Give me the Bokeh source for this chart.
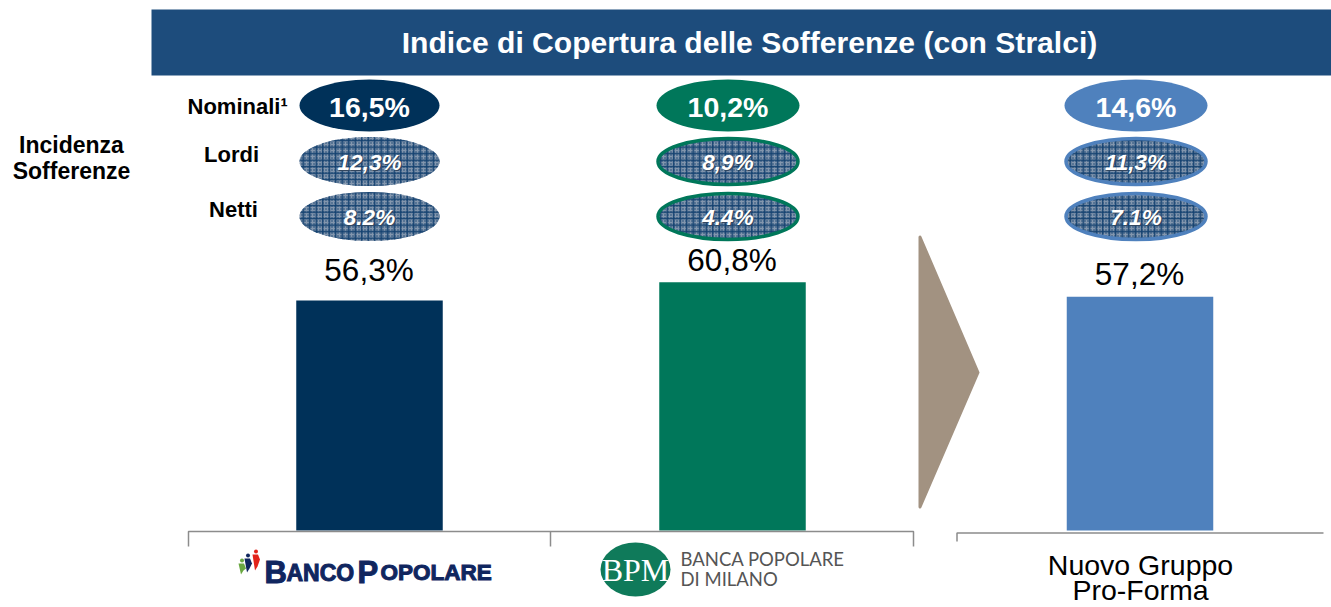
from bokeh.plotting import figure
from bokeh.models import Range1d
from bokeh.embed import file_html
from bokeh.resources import INLINE
from bokeh.core.properties import value

banks = ["Banco Popolare", "Banca Popolare di Milano", "Nuovo Gruppo Pro-Forma"]
coverage = [56.3, 60.8, 57.2]
coverage_labels = ["56,3%", "60,8%", "57,2%"]
nominali_labels = ["16,5%", "10,2%", "14,6%"]
lordi_labels = ["12,3%", "8,9%", "11,3%"]
netti_labels = ["8.2%", "4.4%", "7.1%"]
title_text = "Indice di Copertura delle Sofferenze (con Stralci)"
bar_colors = ["#003159", "#00775a", "#4f81bd"]
title_color = "#1d4c7c"

W, H = 1331, 607
FONT = value("Liberation Sans")

base_px = 530
px_per_unit = 4.085
p = figure(width=W, height=H, output_backend="svg", toolbar_location=None,
           x_range=Range1d(0, W),
           y_range=Range1d((base_px - H) / px_per_unit, base_px / px_per_unit),
           min_border=0, outline_line_color=None, background_fill_color="white")
p.axis.visible = False
p.grid.visible = False
p.extra_y_ranges["px"] = Range1d(H, 0)

def txt(x, y, s, size, color="black", style="normal", align="center", font=FONT):
    p.text([x], [y], text=[s], y_range_name="px", text_font=font,
           text_font_size=f"{size}px", text_font_style=style, text_color=color,
           text_align=align, text_baseline="middle")

# title band
p.quad(left=[151], right=[1331], top=[9], bottom=[75], y_range_name="px",
       fill_color=title_color, line_color=None)
txt(749, 42, title_text, 30.1, "white", "bold")

# bars
centers = [369, 732, 1139.5]
label_gaps = [30.5, 22, 23]
p.vbar(x=centers, top=coverage, bottom=0, width=146.5, fill_color=bar_colors, line_color=None)
for c, v, s, g in zip(centers, coverage, coverage_labels, label_gaps):
    txt(c - 0.5, base_px - v * px_per_unit - g, s, 31.5)

# ellipses
ell_x = [369, 727.5, 1135.5]
ell_w = [140, 143, 143]
rows = [105, 161, 216]
for i in range(3):
    p.ellipse([ell_x[i]], [rows[0]], width=ell_w[i], height=52, y_range_name="px",
              fill_color=bar_colors[i], line_color=None)
    txt(ell_x[i], rows[0] + 1, nominali_labels[i], 28.5, "white", "bold")
    for row, labels in zip(rows[1:], (lordi_labels, netti_labels)):
        w = ell_w[i] - (0 if i == 0 else 3)
        h = 49 - (0 if i == 0 else 3)
        p.ellipse([ell_x[i]], [row], width=w, height=h, y_range_name="px",
                  fill_color="#8497ae", line_color=None,
                  hatch_pattern="dot", hatch_color="#12406f", hatch_scale=3, hatch_weight=2)
        p.ellipse([ell_x[i]], [row], width=w, height=h, y_range_name="px",
                  fill_alpha=0, line_color=bar_colors[i] if i else None, line_width=3.5,
                  hatch_pattern="cross", hatch_color="#12406f", hatch_scale=6.5, hatch_weight=1.4)
        txt(ell_x[i] + 1, row + 1.5, labels[i], 22.5, "#33475f", "bold italic")
        txt(ell_x[i], row + 0.5, labels[i], 22.5, "white", "bold italic")

# row labels
txt(187, 106, "Nominali\u00b9", 22, "black", "bold", "left")
txt(231, 154, "Lordi", 22, "black", "bold")
txt(233, 209, "Netti", 22, "black", "bold")
txt(71, 144, "Incidenza", 23, "black", "bold")
txt(71, 170, "Sofferenze", 23, "black", "bold")

# arrow
p.patch([919.5, 977.5, 919.5], [236.5, 372, 506.5], y_range_name="px",
        fill_color="#a29281", line_color="#a29281", line_width=3, line_join="round")

# brackets
gray = "#8c8c8c"
p.line([188, 188, 913, 913], [546, 531, 531, 546], y_range_name="px", line_color=gray, line_width=1.5)
p.line([550, 550], [531, 546], y_range_name="px", line_color=gray, line_width=1.5)
p.line([956.5, 956.5, 1323], [541, 532.5, 532.5], y_range_name="px", line_color=gray, line_width=1.5)

# Banco Popolare logo
navy = "#10265f"
def logo(x, s, size):
    p.text([x], [572], text=[s], y_range_name="px", text_font=FONT, text_font_size=f"{size}px",
           text_font_style="bold", text_color=navy, text_baseline="alphabetic",
           text_outline_color=navy)
logo(264, "B", 31)
logo(286, "ANCO", 23)
logo(357, "P", 31)
logo(380, "OPOLARE", 22.5)
for dx, top, col, hgt in [(0, 560, "#6aa842", 14), (6, 555, navy, 17), (14, 551, "#e2231a", 19)]:
    p.circle([241.5 + dx], [top], radius=2, y_range_name="px", fill_color=col, line_color=None)
    p.patch([238 + dx, 243.5 + dx, 245.5 + dx, 243 + dx, 240.5 + dx],
            [top + 3, top + 3, top + 8, top + hgt - 4, top + hgt],
            y_range_name="px", fill_color=col, line_color=None)

# BPM logo
p.ellipse([635], [569], width=70, height=54, y_range_name="px", fill_color="#0f7a5a", line_color=None)
txt(635, 569, "BPM", 32, "white", "normal", font=value("Liberation Serif"))
txt(680, 558.5, "BANCA POPOLARE", 18.5, "#555555", "normal", "left", font=value("Lato"))
txt(680, 578.5, "DI MILANO", 18.5, "#555555", "normal", "left", font=value("Lato"))

# third group label
txt(1140, 564.5, "Nuovo Gruppo", 28.5)
txt(1140, 589.5, "Pro-Forma", 28.5)

open("out.html", "w").write(file_html(p, INLINE))
